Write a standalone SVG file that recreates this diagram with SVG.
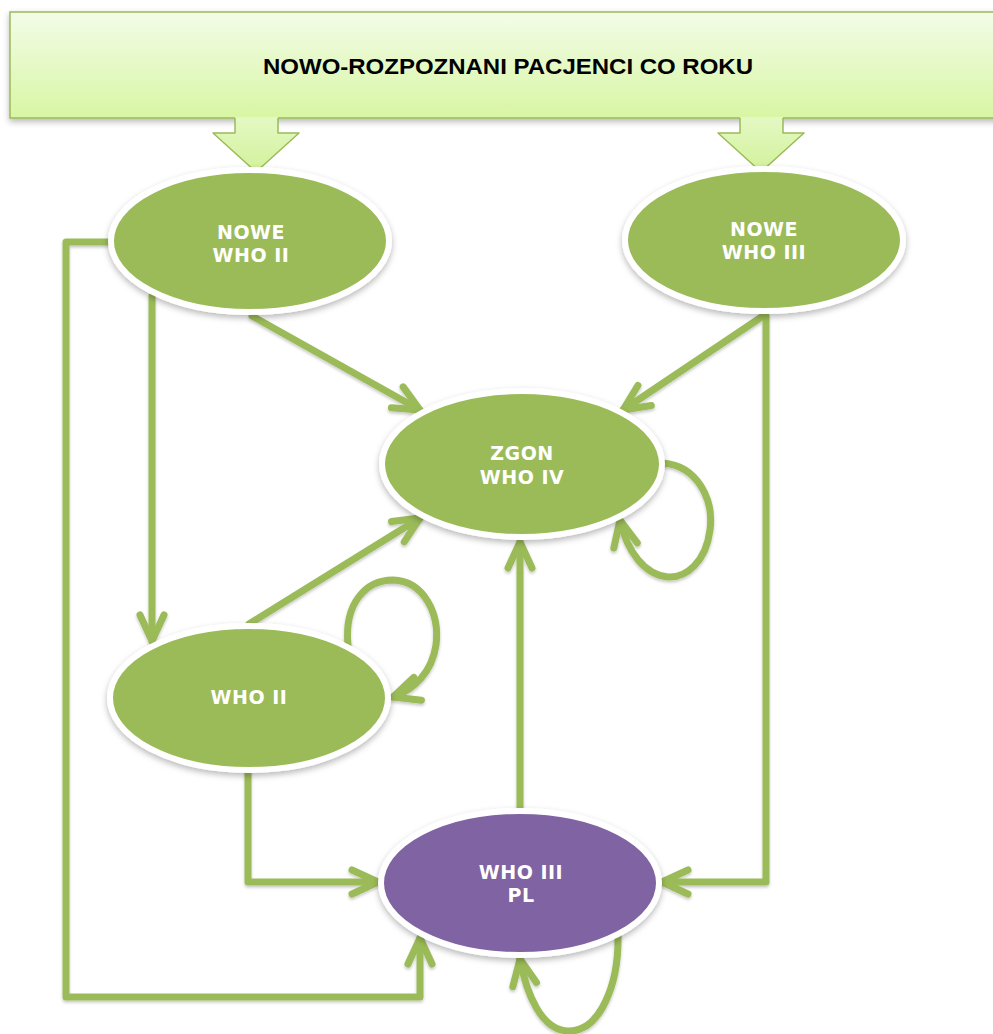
<svg xmlns="http://www.w3.org/2000/svg" width="993" height="1034" viewBox="0 0 993 1034">
<defs>
<style>
.node ellipse{fill:#9bbb59;stroke:#ffffff;stroke-width:6;filter:url(#sh)}
.node.purple ellipse{fill:#8064a2}
.lbl{font-family:"DejaVu Sans",Verdana,sans-serif;font-weight:bold;font-size:19px;fill:#ffffff;text-anchor:middle;letter-spacing:0.5px}
.con{fill:none;stroke:#9bbb59;stroke-width:7;stroke-linecap:round;stroke-linejoin:round;marker-end:url(#ah)}
.title{font-family:"Liberation Sans",Arial,sans-serif;font-weight:bold;font-size:22px;fill:#000000;text-anchor:middle}
</style>
<linearGradient id="gbox" x1="0" y1="0" x2="0" y2="1">
<stop offset="0" stop-color="#f3fce8"/>
<stop offset="1" stop-color="#d8f6a4"/>
</linearGradient>
<linearGradient id="garr" x1="0" y1="0" x2="0" y2="1">
<stop offset="0" stop-color="#e4f8c4"/>
<stop offset="1" stop-color="#d2f29a"/>
</linearGradient>
<filter id="sh" x="-10%" y="-10%" width="120%" height="130%">
<feDropShadow dx="0" dy="3" stdDeviation="3" flood-color="#000" flood-opacity="0.28"/>
</filter>
<filter id="shl" x="-10%" y="-10%" width="120%" height="130%">
<feDropShadow dx="0" dy="2" stdDeviation="1.5" flood-color="#000" flood-opacity="0.22"/>
</filter>
<marker id="ah" markerUnits="userSpaceOnUse" viewBox="-34 -20 40 40" markerWidth="40" markerHeight="40" refX="0" refY="0" orient="auto" overflow="visible">
<path d="M-26,-12 L0,0 L-26,12" fill="none" stroke="#9bbb59" stroke-width="7" stroke-linecap="round" stroke-linejoin="round"/>
</marker>
</defs>
<rect width="993" height="1034" fill="#ffffff"/>

<g id="source">
<rect x="10" y="12" width="995" height="106" fill="url(#gbox)" stroke="#9bbb59" stroke-width="1.5" filter="url(#sh)"/>
<text class="title" x="508" y="74" textLength="490" lengthAdjust="spacingAndGlyphs">NOWO-ROZPOZNANI PACJENCI CO ROKU</text>
<polygon points="235,117 235,133 213,133 256,172 299,133 278,133 278,117" fill="url(#garr)"/>
<polyline points="235,118 235,133 213,133 256,172 299,133 278,133 278,118" fill="none" stroke="#9bbb59" stroke-width="1.5" stroke-linejoin="round"/>
<polygon points="740,117 740,133 718,133 761,172 804,133 783,133 783,117" fill="url(#garr)"/>
<polyline points="740,118 740,133 718,133 761,172 804,133 783,133 783,118" fill="none" stroke="#9bbb59" stroke-width="1.5" stroke-linejoin="round"/>
</g>

<g id="connectors" filter="url(#shl)">
<polyline class="con" points="112,242 66,242 66,997 420,997 420,938"/>
<polyline class="con" points="152,296 152,641"/>
<polyline class="con" points="252,316 420,410"/>
<polyline class="con" points="763,316 623,410"/>
<polyline class="con" points="766,316 766,882 662,882"/>
<polyline class="con" points="249,624 420,518"/>
<polyline class="con" points="520,808 520,542"/>
<polyline class="con" points="248,771 248,882 378,882"/>
<path class="con" d="M663,463 C698,466 714,500 710,530 C706,562 686,578 668,577 C645,575 627,552 620,520"/>
<path class="con" d="M348,645 C344,603 366,580 393,580 C424,581 440,614 436,645 C432,672 414,690 393,697"/>
<path class="con" d="M618,935 C619,985 600,1030 570,1031 C541,1032 526,992 520,959"/>
</g>

<g id="nowe-who-ii" class="node">
<ellipse cx="250" cy="241" rx="139" ry="71"/>
<text class="lbl" x="251" y="239">NOWE</text>
<text class="lbl" x="251" y="262">WHO II</text>
</g>
<g id="nowe-who-iii" class="node">
<ellipse cx="764" cy="240" rx="139" ry="71"/>
<text class="lbl" x="764" y="236">NOWE</text>
<text class="lbl" x="764" y="259">WHO III</text>
</g>
<g id="zgon-who-iv" class="node">
<ellipse cx="522" cy="464" rx="140" ry="73"/>
<text class="lbl" x="522" y="460">ZGON</text>
<text class="lbl" x="522" y="484">WHO IV</text>
</g>
<g id="who-ii" class="node">
<ellipse cx="249" cy="698" rx="139" ry="72"/>
<text class="lbl" x="249" y="704">WHO II</text>
</g>
<g id="who-iii-pl" class="node purple">
<ellipse cx="520" cy="883" rx="139" ry="72"/>
<text class="lbl" x="521" y="879">WHO III</text>
<text class="lbl" x="521" y="902">PL</text>
</g>
</svg>
